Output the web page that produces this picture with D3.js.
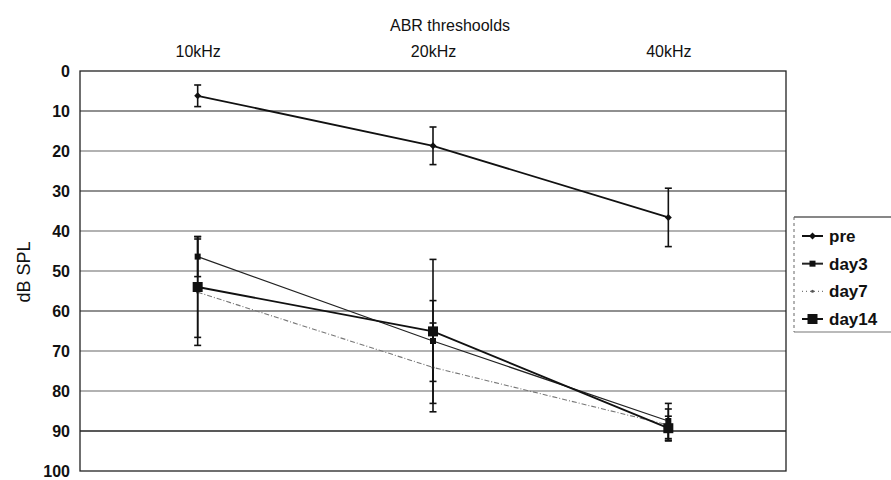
<!DOCTYPE html>
<html lang="en">
<head>
<meta charset="UTF-8">
<script src="https://d3js.org/d3.v7.min.js"></script>
<title>ABR thresholds</title>
<style>
  body { margin: 0; background: #fff; }
  text { font-family: "Liberation Sans", Arial, sans-serif; fill: #111; }
</style>
</head>
<body>
<script>
// categories and values
const categories = ['10kHz', '20kHz', '40kHz'];
const yTicks = [0, 10, 20, 30, 40, 50, 60, 70, 80, 90, 100];

const preVals = [6.2, 18.7, 36.6];
const preErr = [2.7, 4.7, 7.3];
const day3Vals = [46.4, 67.5, 87.5];
const day3Err = [5, 10.1, 4.4];
const day7Vals = [55.3, 74.1, 88.5];
const day7Err = [13.3, 11.1, 4];
const day14Vals = [54, 65.1, 89.3];
const day14Err = [12.6, 18, 3];

const seriesNames = ['pre', 'day3', 'day7', 'day14'];

const W = 891, H = 480;
const plot = {left: 80, right: 786, top: 71, bottom: 471};

const svg = d3.select('body').append('svg')
    .attr('width', W)
    .attr('height', H);

const x = d3.scalePoint().domain(categories).range([plot.left, plot.right]).padding(0.5);
const y = d3.scaleLinear().domain([0, 100]).range([plot.top, plot.bottom]);

// gridlines
svg.append('g').selectAll('line')
    .data(yTicks.filter(d => d > 0 && d < 100))
    .enter().append('line')
    .attr('x1', plot.left).attr('x2', plot.right)
    .attr('y1', d => y(d)).attr('y2', d => y(d))
    .attr('stroke', d => [10, 30, 60, 90].includes(d) ? '#222' : '#666')
    .attr('stroke-width', d => d === 90 ? 1.6 : 1.1);

// plot frame
svg.append('rect')
    .attr('x', plot.left).attr('y', plot.top)
    .attr('width', plot.right - plot.left).attr('height', plot.bottom - plot.top)
    .attr('fill', 'none').attr('stroke', '#222').attr('stroke-width', 1.3);

// y axis labels
const yAxis = d3.axisLeft(y).tickValues(yTicks).tickSize(0).tickPadding(10);
svg.append('g')
    .attr('transform', `translate(${plot.left},0)`)
    .call(yAxis)
    .call(g => g.select('.domain').remove())
    .selectAll('text')
    .attr('font-size', 16)
    .attr('font-weight', 'bold')
    .attr('font-family', '"Liberation Sans", Arial, sans-serif')
    .attr('fill', '#111');

// x axis labels on top
const xAxis = d3.axisTop(x).tickSize(0).tickPadding(14);
svg.append('g')
    .attr('transform', `translate(0,${plot.top})`)
    .call(xAxis)
    .call(g => g.select('.domain').remove())
    .selectAll('text')
    .attr('font-size', 16)
    .attr('font-family', '"Liberation Sans", Arial, sans-serif')
    .attr('fill', '#111');

// title
svg.append('text')
    .attr('x', 450).attr('y', 31)
    .attr('text-anchor', 'middle')
    .attr('font-size', 16)
    .text('ABR threshoolds');

// y axis title
svg.append('text')
    .attr('transform', 'translate(30,272) rotate(-90)')
    .attr('text-anchor', 'middle')
    .attr('font-size', 18)
    .text('dB SPL');

const series = [
    {name: 'pre', vals: preVals, err: preErr, color: '#111', width: 1.8, dash: null, marker: 'diamond', size: 5},
    {name: 'day3', vals: day3Vals, err: day3Err, color: '#222', width: 1.2, dash: null, marker: 'square', size: 6},
    {name: 'day7', vals: day7Vals, err: day7Err, color: '#777', width: 1.1, dash: '5,2,1,2', marker: 'dot', size: 3},
    {name: 'day14', vals: day14Vals, err: day14Err, color: '#111', width: 1.8, dash: null, marker: 'square', size: 10}
];

const line = d3.line().x(d => x(d.cat)).y(d => y(d.v));

function drawMarker(g, m, cx, cy, color) {
    if (m.marker === 'square') {
        g.append('rect')
            .attr('x', cx - m.size / 2).attr('y', cy - m.size / 2)
            .attr('width', m.size).attr('height', m.size)
            .attr('fill', color);
    } else if (m.marker === 'diamond') {
        const s = m.size / 2 + 1;
        g.append('path')
            .attr('d', `M${cx},${cy - s}L${cx + s},${cy}L${cx},${cy + s}L${cx - s},${cy}Z`)
            .attr('fill', color);
    } else {
        g.append('circle').attr('cx', cx).attr('cy', cy).attr('r', m.size / 2).attr('fill', color);
    }
}

series.forEach(s => {
    const pts = categories.map((c, i) => ({cat: c, v: s.vals[i], e: s.err[i]}));
    const g = svg.append('g');
    // error bars
    pts.forEach(p => {
        const cx = x(p.cat);
        g.append('line')
            .attr('x1', cx).attr('x2', cx)
            .attr('y1', y(p.v - p.e)).attr('y2', y(p.v + p.e))
            .attr('stroke', '#111').attr('stroke-width', 1.6);
        [p.v - p.e, p.v + p.e].forEach(v => {
            g.append('line')
                .attr('x1', cx - 3.5).attr('x2', cx + 3.5)
                .attr('y1', y(v)).attr('y2', y(v))
                .attr('stroke', '#111').attr('stroke-width', 1.6);
        });
    });
    g.append('path')
        .datum(pts)
        .attr('d', line)
        .attr('fill', 'none')
        .attr('stroke', s.color)
        .attr('stroke-width', s.width)
        .attr('stroke-dasharray', s.dash);
    pts.forEach(p => drawMarker(g, s, x(p.cat), y(p.v), s.color === '#777' ? '#555' : '#111'));
});

// legend
const leg = svg.append('g');
const legTop = 217, legBottom = 332, legLeft = 794;
leg.append('line').attr('x1', legLeft).attr('x2', W).attr('y1', legTop).attr('y2', legTop)
    .attr('stroke', '#111').attr('stroke-width', 1.2);
leg.append('line').attr('x1', legLeft).attr('x2', W).attr('y1', legBottom).attr('y2', legBottom)
    .attr('stroke', '#777').attr('stroke-width', 1.2);
leg.append('line').attr('x1', legLeft).attr('x2', legLeft).attr('y1', legTop).attr('y2', legBottom)
    .attr('stroke', '#666').attr('stroke-width', 1).attr('stroke-dasharray', '3,3');

const legY = d3.scalePoint().domain(seriesNames).range([236, 319]);
series.forEach(s => {
    const cy = legY(s.name);
    leg.append('line')
        .attr('x1', 802).attr('x2', 823)
        .attr('y1', cy).attr('y2', cy)
        .attr('stroke', s.color)
        .attr('stroke-width', s.name === 'day7' ? 1.2 : 2)
        .attr('stroke-dasharray', s.name === 'day7' ? '1,3' : null);
    drawMarker(leg, s, 812.5, cy, s.name === 'day7' ? '#555' : '#111');
    leg.append('text')
        .attr('x', 829).attr('y', cy + 6)
        .attr('font-size', 17)
        .attr('font-weight', 'bold')
        .text(s.name);
});
</script>
</body>
</html>
